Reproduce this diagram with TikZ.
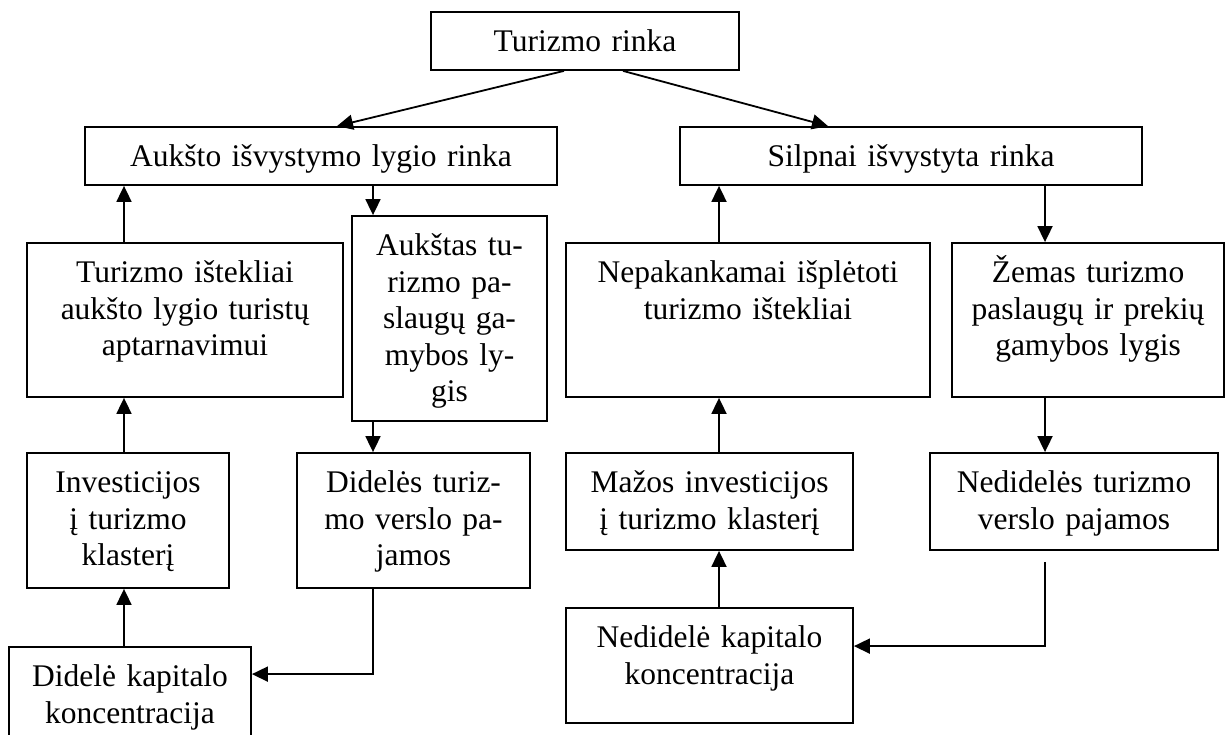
\documentclass[tikz,border=0pt]{standalone}
\usepackage{fontspec}
\setmainfont{Liberation Serif}
\usetikzlibrary{arrows.meta,calc}
\tikzset{
  box/.style={draw=black,line width=1.8pt,rectangle,inner sep=0pt},
  txt/.style={text width=440pt,align=center,inner sep=0pt,font=\fontsize{31.5}{36.5}\selectfont},
  arr/.style={line width=1.8pt,-{Triangle[length=16pt,width=15pt]}}
}
\newcommand\bx[6]{%
  \node[box,minimum width=#4pt,minimum height=#5pt] (#1) at (#2,#3) {};
  \node[txt,anchor=base] (#1t) at ([yshift=-40.5pt]#1.north) {#6};}
\begin{document}
\begin{tikzpicture}[x=1pt,y=-1pt]
\clip (0,0) rectangle (1226,735);
\fill[white] (0,0) rectangle (1226,735);
\bx{rinka}{585}{41}{308}{58}{Turizmo rinka}
\bx{aukst}{321}{156}{472}{58}{Aukšto išvystymo lygio rinka}
\bx{silp}{911}{156}{462}{58}{Silpnai išvystyta rinka}
\bx{istek}{185}{320}{316}{154}{Turizmo ištekliai\\aukšto lygio turistų\\aptarnavimui}
\bx{aukstas}{449.5}{318.5}{195}{205}{Aukštas tu-\\rizmo pa-\\slaugų ga-\\mybos ly-\\gis}
\bx{nepak}{748}{320}{364}{154}{Nepakankamai išplėtoti\\turizmo ištekliai}
\bx{zemas}{1088}{320}{272}{154}{Žemas turizmo\\paslaugų ir prekių\\gamybos lygis}
\bx{invest}{128}{520.5}{202}{135}{Investicijos\\į turizmo\\klasterį}
\bx{dideles}{413.5}{520.5}{233}{135}{Didelės turiz-\\mo verslo pa-\\jamos}
\bx{mazos}{709.5}{501.5}{287}{97}{Mažos investicijos\\į turizmo klasterį}
\bx{nedideles}{1074}{501.5}{288}{97}{Nedidelės turizmo\\verslo pajamos}
\bx{didele}{130}{696}{242}{98}{Didelė kapitalo\\koncentracija}
\bx{nedidele}{709.5}{665.5}{287}{115}{Nedidelė kapitalo\\koncentracija}
% connectors
\draw[arr] ([xshift=-21pt]rinka.south) -- ([xshift=16pt]aukst.north);
\draw[arr] ([xshift=38pt]rinka.south) -- ([xshift=-83pt]silp.north);
\draw[arr] ([xshift=-61pt]istek.north) -- ([xshift=-61pt]istek.north |- aukst.south);
\draw[arr] ([xshift=52pt]aukst.south) -- ([xshift=52pt]aukst.south |- aukstas.north);
\draw[arr] ([xshift=-4pt]invest.north) -- ([xshift=-4pt]invest.north |- istek.south);
\draw[arr] ([xshift=-6pt]didele.north) -- ([xshift=-6pt]didele.north |- invest.south);
\draw[arr] ([xshift=-76.5pt]aukstas.south) -- ([xshift=-76.5pt]aukstas.south |- dideles.north);
\draw[arr] ([xshift=-40.5pt]dideles.south) |- ([yshift=-28pt]didele.north east);
\draw[arr] ([xshift=-29pt]nepak.north) -- ([xshift=-29pt]nepak.north |- silp.south);
\draw[arr] ([xshift=9.5pt]mazos.north) -- ([xshift=9.5pt]mazos.north |- nepak.south);
\draw[arr] ([xshift=9.5pt]nedidele.north) -- ([xshift=9.5pt]nedidele.north |- mazos.south);
\draw[arr] ([xshift=134pt]silp.south) -- ([xshift=134pt]silp.south |- zemas.north);
\draw[arr] ([xshift=-43pt]zemas.south) -- ([xshift=-43pt]zemas.south |- nedideles.north);
\coordinate (gap) at ([xshift=-29pt,yshift=-11pt]nedideles.south);
\draw[arr] (gap) |- ([yshift=-39pt]nedidele.north east);
\end{tikzpicture}
\end{document}
